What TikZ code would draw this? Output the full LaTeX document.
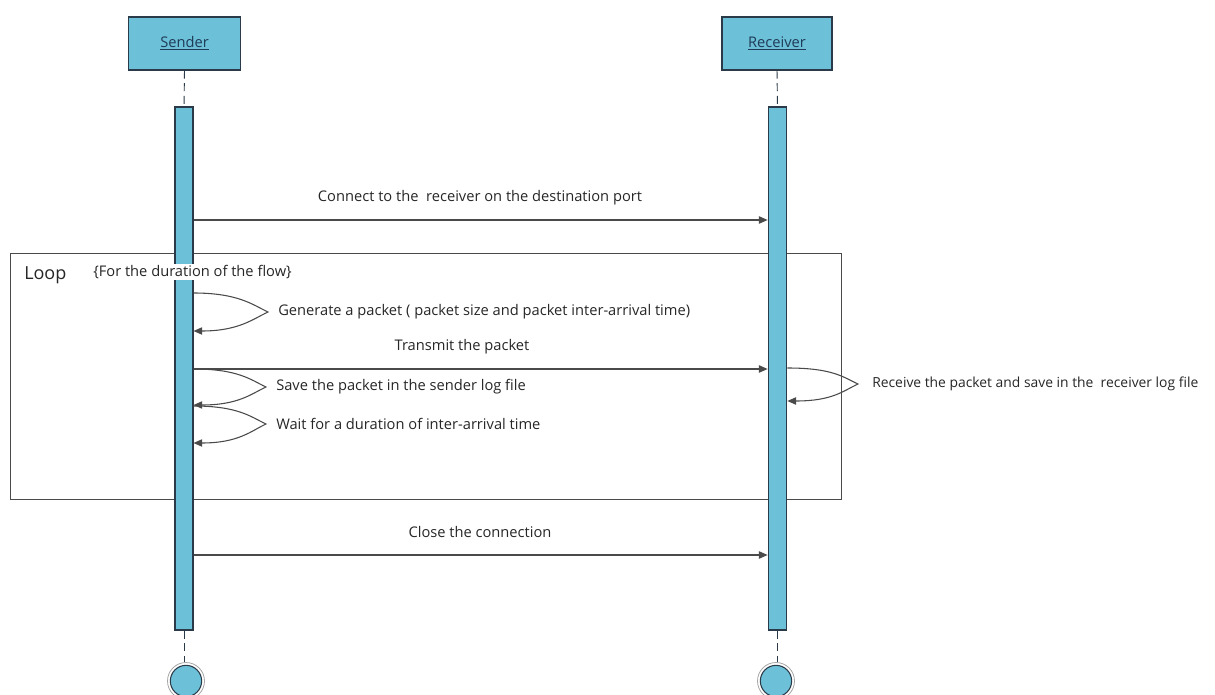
\documentclass[tikz,border=0pt]{standalone}
\usepackage{fontspec}
\setmainfont{Open Sans}
\usetikzlibrary{arrows.meta,calc}
\definecolor{lblue}{HTML}{6CC0D8}
\definecolor{edge}{HTML}{2B3A48}
\definecolor{wire}{HTML}{4A4A4A}
\definecolor{lbl}{HTML}{1F3B57}
\begin{document}
\begin{tikzpicture}[x=0.75pt,y=-0.75pt,
  font=\fontsize{11}{13}\selectfont,
  lifebox/.style={draw=edge,fill=lblue,line width=0.8pt,minimum width=84pt,
    minimum height=39.75pt,inner sep=0pt,text=lbl},
  actbar/.style={draw=edge,fill=lblue,line width=0.8pt,minimum width=13.5pt,
    minimum height=392.25pt,inner sep=0pt},
  lifeline/.style={draw=edge,line width=0.7pt,dash pattern=on 6pt off 3.5pt},
  msg/.style={draw=wire,line width=0.8pt,-{Triangle[length=6.5pt,width=5.5pt]}},
  txt/.style={inner sep=0pt,text=black!85},
  endring/.style={draw=gray!70,line width=0.6pt,fill=white,circle,
    minimum size=27.75pt,inner sep=0pt},
  endcore/.style={draw=edge,fill=lblue,line width=0.8pt,circle,
    minimum size=23.5pt,inner sep=0pt}
]
\useasboundingbox (0,0) rectangle (1215,695);

% combined fragment
\node[draw=wire,line width=0.7pt,minimum width=623.25pt,minimum height=184.5pt,
  inner sep=0pt] (loop) at (425.5,376) {};
\node[txt,anchor=west,font=\fontsize{13.5}{16}\selectfont] (looplbl) at (24,275) {Loop};

% lifeline heads
\node[lifebox] (sbox) at (184.5,43.5) {\underline{Sender}};
\node[lifebox,minimum width=82.5pt] (rbox) at (777,43.5) {\underline{Receiver}};

% activation bars
\node[actbar] (sbar) at (184,368.5) {};
\node[actbar,minimum width=14pt] (rbar) at (777.5,368.5) {};

% guard of the loop, set over the sender bar
\node[txt,anchor=west,fill=white,inner ysep=1pt] (guard) at (93,272)
  {\{For the duration of the flow\}};

% end markers
\node[endring] (send) at (186,681) {};
\node[endcore] at (send) {};
\node[endring] (rend) at (776,681) {};
\node[endcore] at (rend) {};

% dashed lifelines
\draw[lifeline] (sbox.south) -- (sbar.north);
\draw[lifeline] (rbox.south) -- (rbar.north);
\draw[lifeline] (sbar.south) -- (sbar.south |- send.north);
\draw[lifeline] (rbar.south) -- (rbar.south |- rend.north);

% messages between lifelines
\coordinate (c1) at (sbar.east |- 0,220);
\coordinate (c2) at (rbar.west |- 0,220);
\draw[msg] (c1) -- (c2);
\node[txt] (lconnect) at (480,198) {Connect to the\ \ receiver on the destination port};

\coordinate (t1) at (sbar.east |- 0,369);
\coordinate (t2) at (rbar.west |- 0,369);
\draw[msg] (t1) -- (t2);
\node[txt] (ltransmit) at (462,347) {Transmit the packet};

\coordinate (x1) at (sbar.east |- 0,555);
\coordinate (x2) at (rbar.west |- 0,555);
\draw[msg] (x1) -- (x2);
\node[txt] (lclose) at (480,532) {Close the connection};

% self messages on the sender
\coordinate (g1) at (sbar.east |- 0,293);
\coordinate (g2) at (sbar.east |- 0,331);
\coordinate (ga) at (268,312);
\draw[msg] (g1) .. controls +(45,0) and +(-15,-7) .. (ga)
  .. controls +(-15,7) and +(45,0) .. (g2);
\node[txt,anchor=west] (lgen) at (278,312)
  {Generate a packet ( packet size and packet inter-arrival time)};

\coordinate (s1) at (sbar.east |- 0,369);
\coordinate (s2) at (sbar.east |- 0,405);
\coordinate (sa) at (266,387);
\draw[msg] (s1) .. controls +(45,0) and +(-15,-7) .. (sa)
  .. controls +(-15,7) and +(45,0) .. (s2);
\node[txt,anchor=west] (lsave) at (276,387) {Save the packet in the sender log file};

\coordinate (w1) at (sbar.east |- 0,406);
\coordinate (w2) at (sbar.east |- 0,443);
\coordinate (wa) at (266,424);
\draw[msg] (w1) .. controls +(45,0) and +(-15,-7) .. (wa)
  .. controls +(-15,7) and +(45,0) .. (w2);
\node[txt,anchor=west] (lwait) at (276,424) {Wait for a duration of inter-arrival time};

% self message on the receiver
\coordinate (r1) at (rbar.east |- 0,368);
\coordinate (r2) at (rbar.east |- 0,401);
\coordinate (ra) at (858,384);
\draw[msg] (r1) .. controls +(45,0) and +(-15,-7) .. (ra)
  .. controls +(-15,7) and +(45,0) .. (r2);
\node[txt,anchor=west,font=\fontsize{10.4}{12}\selectfont] (lrecv) at (872,384)
  {Receive the packet and save in the\ \ receiver log file};
\end{tikzpicture}
\end{document}
